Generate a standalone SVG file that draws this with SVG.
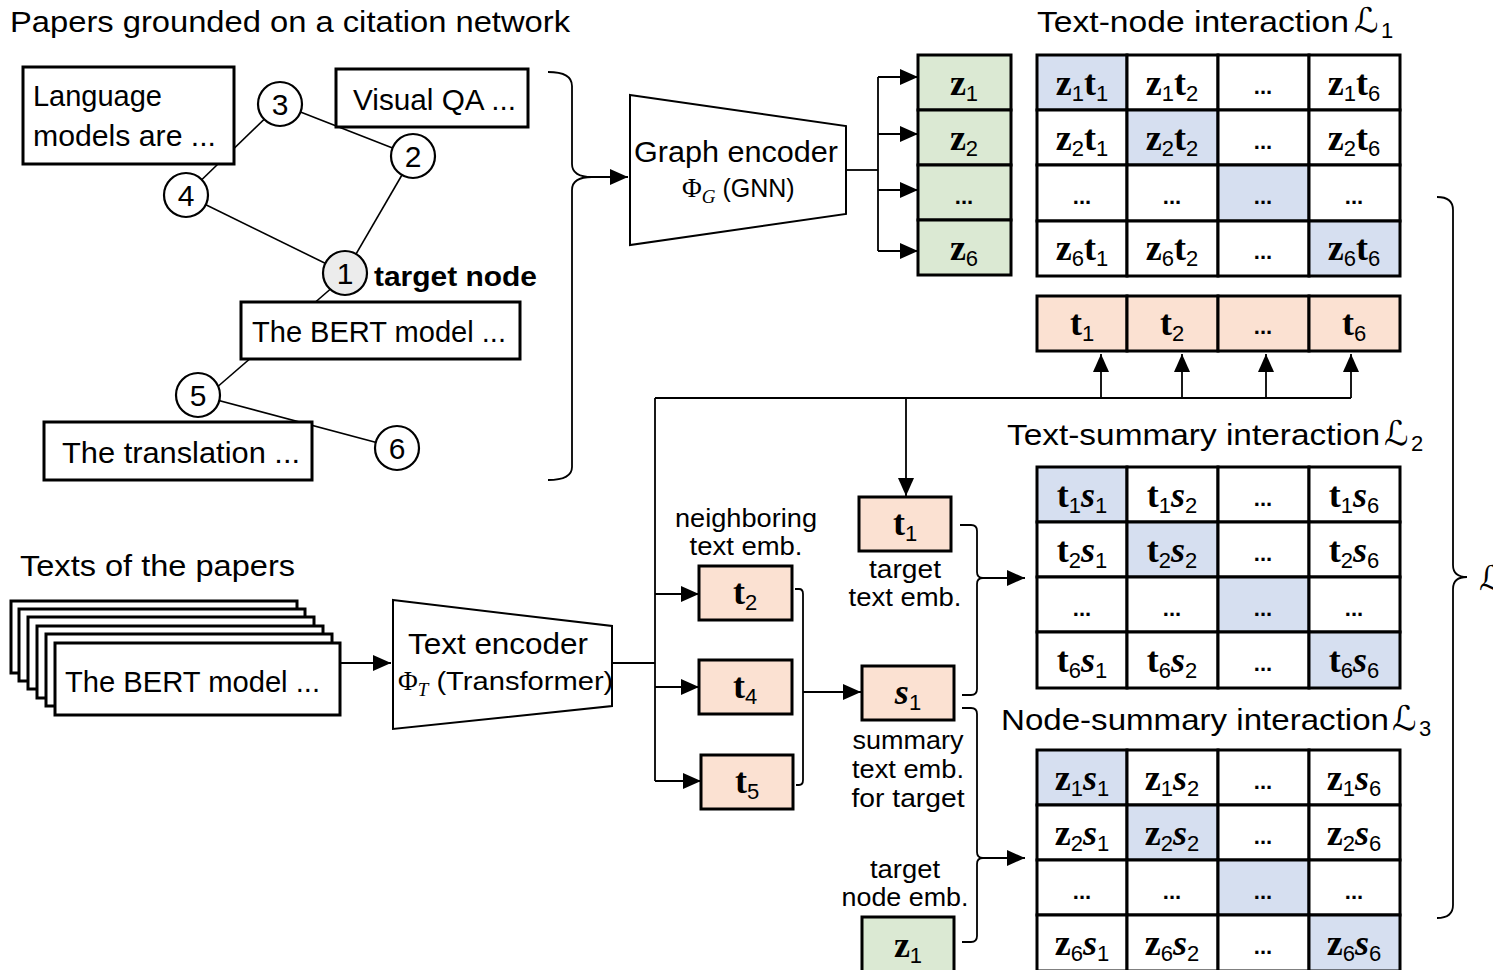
<svg xmlns="http://www.w3.org/2000/svg" width="1493" height="970" viewBox="0 0 1493 970">
<defs>
<marker id="ah" markerWidth="18" markerHeight="16" refX="18" refY="8" orient="auto" markerUnits="userSpaceOnUse"><path d="M0,0 L18,8 L0,16 z" fill="#000"/></marker>
<style>
.t{font-family:"Liberation Sans",Arial,sans-serif;font-size:29px;fill:#000}
.lab{font-family:"Liberation Sans",Arial,sans-serif;font-size:26px;fill:#000;text-anchor:middle}
.num{font-family:"Liberation Sans",Arial,sans-serif;font-size:30px;text-anchor:middle}
.box{fill:#fff;stroke:#000;stroke-width:3}
.circ{fill:#fff;stroke:#000;stroke-width:2.2}
.edge{stroke:#000;stroke-width:1.6;fill:none}
.conn{stroke:#000;stroke-width:1.8;fill:none}
.cw{fill:#fff;stroke:#000;stroke-width:3}
.cb{fill:#d6dff0;stroke:#000;stroke-width:3}
.cg{fill:#dbe9d3;stroke:#000;stroke-width:3}
.cp{fill:#fbe1d2;stroke:#000;stroke-width:3}
.c{text-anchor:middle}
.b{font-family:"Liberation Serif","Times New Roman",serif;font-weight:bold;font-size:36px}
.bi{font-family:"Liberation Serif","Times New Roman",serif;font-weight:bold;font-style:italic;font-size:36px}
.sb{font-family:"Liberation Sans",Arial,sans-serif;font-size:22px;font-weight:normal;font-style:normal}
.dots{font-family:"Liberation Sans",Arial,sans-serif;font-size:22px;font-weight:bold;text-anchor:middle}
.cal{font-family:"DejaVu Sans","DejaVu Serif",serif;font-size:34px}
</style>
</defs>

<!-- Titles -->
<text class="t" x="10" y="32" textLength="560" lengthAdjust="spacingAndGlyphs">Papers grounded on a citation network</text>
<text class="t" x="20" y="576" textLength="275" lengthAdjust="spacingAndGlyphs">Texts of the papers</text>
<g id="title-l1"><text class="t" x="1037" y="32" textLength="312" lengthAdjust="spacingAndGlyphs">Text-node interaction</text><text class="cal" x="1354" y="32">ℒ</text><text class="sb" x="1381" y="38">1</text></g>
<g id="title-l2"><text class="t" x="1007" y="445" textLength="373" lengthAdjust="spacingAndGlyphs">Text-summary interaction</text><text class="cal" x="1384" y="445">ℒ</text><text class="sb" x="1411" y="451">2</text></g>
<g id="title-l3"><text class="t" x="1001" y="730" textLength="388" lengthAdjust="spacingAndGlyphs">Node-summary interaction</text><text class="cal" x="1392" y="730">ℒ</text><text class="sb" x="1419" y="736">3</text></g>
<text class="cal" x="1479" y="590">ℒ</text>

<!-- Graph edges -->
<g id="graph-edges">
<line class="edge" x1="280" y1="104" x2="186" y2="195"/>
<line class="edge" x1="280" y1="104" x2="413" y2="156"/>
<line class="edge" x1="413" y1="156" x2="345" y2="273"/>
<line class="edge" x1="186" y1="195" x2="345" y2="273"/>
<line class="edge" x1="349" y1="273" x2="208" y2="395"/>
<line class="edge" x1="198" y1="395" x2="397" y2="448"/>
</g>

<!-- Graph nodes -->
<g id="paper-language"><rect class="box" x="23" y="67" width="211" height="97"/><text class="t" x="33" y="106" textLength="129" lengthAdjust="spacingAndGlyphs">Language</text><text class="t" x="33" y="146" textLength="183" lengthAdjust="spacingAndGlyphs">models are ...</text></g>
<g id="paper-vqa"><rect class="box" x="336" y="69" width="192" height="58"/><text class="t" x="353" y="110" textLength="163" lengthAdjust="spacingAndGlyphs">Visual QA ...</text></g>
<g id="paper-bert"><rect class="box" x="241" y="302" width="279" height="57"/><text class="t" x="252" y="342" textLength="254" lengthAdjust="spacingAndGlyphs">The BERT model ...</text></g>
<g id="paper-translation"><rect class="box" x="44" y="422" width="268" height="58"/><text class="t" x="62" y="463" textLength="238" lengthAdjust="spacingAndGlyphs">The translation ...</text></g>
<g id="n3"><circle class="circ" cx="280" cy="104" r="22"/><text class="num" x="280" y="115">3</text></g>
<g id="n2"><circle class="circ" cx="413" cy="156" r="22"/><text class="num" x="413" y="167">2</text></g>
<g id="n4"><circle class="circ" cx="186" cy="195" r="22"/><text class="num" x="186" y="206">4</text></g>
<g id="n1"><circle class="circ" cx="345" cy="273" r="22" style="fill:#ececec"/><text class="num" x="345" y="284">1</text></g>
<text x="374" y="286" style="font-family:'Liberation Sans',Arial,sans-serif;font-weight:bold;font-size:28px" textLength="163" lengthAdjust="spacingAndGlyphs">target node</text>
<g id="n5"><circle class="circ" cx="198" cy="395" r="22"/><text class="num" x="198" y="406">5</text></g>
<g id="n6"><circle class="circ" cx="397" cy="448" r="22"/><text class="num" x="397" y="459">6</text></g>

<!-- Connectors -->
<g id="connectors">
<path class="conn" d="M548,72 Q572,72 572,86 L572,164 Q572,177 592,177 Q572,177 572,190 L572,467 Q572,480 548,480"/>
<line class="conn" x1="590" y1="177" x2="628" y2="177" marker-end="url(#ah)"/>
<polyline class="conn" points="846,170 878,170"/>
<line class="conn" x1="878" y1="77" x2="878" y2="251"/>
<line class="conn" x1="878" y1="77" x2="918" y2="77" marker-end="url(#ah)"/>
<line class="conn" x1="878" y1="134" x2="918" y2="134" marker-end="url(#ah)"/>
<line class="conn" x1="878" y1="190" x2="918" y2="190" marker-end="url(#ah)"/>
<line class="conn" x1="878" y1="251" x2="918" y2="251" marker-end="url(#ah)"/>
<line class="conn" x1="340" y1="663" x2="391" y2="663" marker-end="url(#ah)"/>
<line class="conn" x1="612" y1="663" x2="655" y2="663"/>
<line class="conn" x1="655" y1="398" x2="655" y2="781"/>
<line class="conn" x1="655" y1="398" x2="1351" y2="398"/>
<line class="conn" x1="1101" y1="398" x2="1101" y2="354" marker-end="url(#ah)"/>
<line class="conn" x1="1182" y1="398" x2="1182" y2="354" marker-end="url(#ah)"/>
<line class="conn" x1="1266" y1="398" x2="1266" y2="354" marker-end="url(#ah)"/>
<line class="conn" x1="1351" y1="398" x2="1351" y2="354" marker-end="url(#ah)"/>
<line class="conn" x1="906" y1="398" x2="906" y2="496" marker-end="url(#ah)"/>
<line class="conn" x1="655" y1="594" x2="699" y2="594" marker-end="url(#ah)"/>
<line class="conn" x1="655" y1="687" x2="699" y2="687" marker-end="url(#ah)"/>
<line class="conn" x1="655" y1="781" x2="701" y2="781" marker-end="url(#ah)"/>
<path class="conn" d="M795,589 L799,589 Q803,589 803,594 L803,780 Q803,785 799,785 L796,785"/>
<line class="conn" x1="803" y1="692" x2="861" y2="692" marker-end="url(#ah)"/>
<path class="conn" d="M960,525 L971,525 Q977,525 977,531 L977,572 Q977,578 983,578 Q977,578 977,584 L977,689 Q977,695 971,695 L962,695"/>
<line class="conn" x1="981" y1="578" x2="1025" y2="578" marker-end="url(#ah)"/>
<path class="conn" d="M962,708 L971,708 Q977,708 977,714 L977,852 Q977,858 983,858 Q977,858 977,864 L977,936 Q977,942 971,942 L962,942"/>
<line class="conn" x1="981" y1="858" x2="1025" y2="858" marker-end="url(#ah)"/>
<path class="conn" d="M1437,197 Q1453,197 1453,210 L1453,565 Q1453,577 1467,577 Q1453,577 1453,589 L1453,905 Q1453,918 1437,918"/>
</g>

<!-- Graph encoder -->
<g id="graph-encoder"><polygon class="box" style="stroke-width:2" points="630,95 846,126 846,214 630,245"/><text class="t" x="634" y="162" textLength="204" lengthAdjust="spacingAndGlyphs">Graph encoder</text><text x="682" y="197" style="font-family:'Liberation Serif',serif;font-size:27px">Φ<tspan dy="6" style="font-style:italic;font-size:19px">G</tspan><tspan dy="-6" style="font-family:'Liberation Sans',Arial,sans-serif;font-size:25px"> (GNN)</tspan></text></g>

<!-- Text stack -->
<g id="paper-stack">
<rect class="box" x="11" y="601" width="286" height="72"/>
<rect class="box" x="19" y="609" width="286" height="72"/>
<rect class="box" x="28" y="617" width="286" height="72"/>
<rect class="box" x="37" y="626" width="286" height="72"/>
<rect class="box" x="46" y="634" width="286" height="72"/>
<rect class="box" x="55" y="643" width="285" height="72"/>
<text class="t" x="65" y="692" textLength="255" lengthAdjust="spacingAndGlyphs">The BERT model ...</text>
</g>

<!-- Text encoder -->
<g id="text-encoder"><polygon class="box" style="stroke-width:2" points="393,600 612,626 612,706 393,729"/><text class="t" x="408" y="654" textLength="180" lengthAdjust="spacingAndGlyphs">Text encoder</text><text x="398" y="690" style="font-family:'Liberation Serif',serif;font-size:27px">Φ<tspan dy="6" style="font-style:italic;font-size:19px">T</tspan><tspan dy="-6" style="font-family:'Liberation Sans',Arial,sans-serif;font-size:25px" textLength="185" lengthAdjust="spacingAndGlyphs"> (Transformer)</tspan></text></g>

<!-- z column -->
<g id="z-column">
<rect class="cg" x="918" y="55" width="93" height="55"/><rect class="cg" x="918" y="110" width="93" height="55"/><rect class="cg" x="918" y="165" width="93" height="55"/><rect class="cg" x="918" y="220" width="93" height="55"/>
<text class="c" x="964" y="95"><tspan class="b">z</tspan><tspan class="sb" dy="6">1</tspan></text>
<text class="c" x="964" y="150"><tspan class="b">z</tspan><tspan class="sb" dy="6">2</tspan></text>
<text class="dots" x="964" y="204">...</text>
<text class="c" x="964" y="260"><tspan class="b">z</tspan><tspan class="sb" dy="6">6</tspan></text>
</g>

<!-- Matrix L1 -->
<g id="matrix-l1">
<rect class="cb" x="1037" y="55" width="90" height="55"/><rect class="cw" x="1127" y="55" width="91" height="55"/><rect class="cw" x="1218" y="55" width="91" height="55"/><rect class="cw" x="1309" y="55" width="91" height="55"/>
<rect class="cw" x="1037" y="110" width="90" height="55"/><rect class="cb" x="1127" y="110" width="91" height="55"/><rect class="cw" x="1218" y="110" width="91" height="55"/><rect class="cw" x="1309" y="110" width="91" height="55"/>
<rect class="cw" x="1037" y="165" width="90" height="56"/><rect class="cw" x="1127" y="165" width="91" height="56"/><rect class="cb" x="1218" y="165" width="91" height="56"/><rect class="cw" x="1309" y="165" width="91" height="56"/>
<rect class="cw" x="1037" y="221" width="90" height="55"/><rect class="cw" x="1127" y="221" width="91" height="55"/><rect class="cw" x="1218" y="221" width="91" height="55"/><rect class="cb" x="1309" y="221" width="91" height="55"/>
<text class="c" x="1082" y="95"><tspan class="b">z</tspan><tspan class="sb" dy="6">1</tspan><tspan class="b" dy="-6">t</tspan><tspan class="sb" dy="6">1</tspan></text>
<text class="c" x="1172" y="95"><tspan class="b">z</tspan><tspan class="sb" dy="6">1</tspan><tspan class="b" dy="-6">t</tspan><tspan class="sb" dy="6">2</tspan></text>
<text class="dots" x="1263" y="94">...</text>
<text class="c" x="1354" y="95"><tspan class="b">z</tspan><tspan class="sb" dy="6">1</tspan><tspan class="b" dy="-6">t</tspan><tspan class="sb" dy="6">6</tspan></text>
<text class="c" x="1082" y="150"><tspan class="b">z</tspan><tspan class="sb" dy="6">2</tspan><tspan class="b" dy="-6">t</tspan><tspan class="sb" dy="6">1</tspan></text>
<text class="c" x="1172" y="150"><tspan class="b">z</tspan><tspan class="sb" dy="6">2</tspan><tspan class="b" dy="-6">t</tspan><tspan class="sb" dy="6">2</tspan></text>
<text class="dots" x="1263" y="149">...</text>
<text class="c" x="1354" y="150"><tspan class="b">z</tspan><tspan class="sb" dy="6">2</tspan><tspan class="b" dy="-6">t</tspan><tspan class="sb" dy="6">6</tspan></text>
<text class="dots" x="1082" y="204">...</text><text class="dots" x="1172" y="204">...</text><text class="dots" x="1263" y="204">...</text><text class="dots" x="1354" y="204">...</text>
<text class="c" x="1082" y="260"><tspan class="b">z</tspan><tspan class="sb" dy="6">6</tspan><tspan class="b" dy="-6">t</tspan><tspan class="sb" dy="6">1</tspan></text>
<text class="c" x="1172" y="260"><tspan class="b">z</tspan><tspan class="sb" dy="6">6</tspan><tspan class="b" dy="-6">t</tspan><tspan class="sb" dy="6">2</tspan></text>
<text class="dots" x="1263" y="259">...</text>
<text class="c" x="1354" y="260"><tspan class="b">z</tspan><tspan class="sb" dy="6">6</tspan><tspan class="b" dy="-6">t</tspan><tspan class="sb" dy="6">6</tspan></text>
</g>

<!-- t row -->
<g id="t-row">
<rect class="cp" x="1037" y="296" width="90" height="55"/><rect class="cp" x="1127" y="296" width="91" height="55"/><rect class="cp" x="1218" y="296" width="91" height="55"/><rect class="cp" x="1309" y="296" width="91" height="55"/>
<text class="c" x="1082" y="335"><tspan class="b">t</tspan><tspan class="sb" dy="6">1</tspan></text>
<text class="c" x="1172" y="335"><tspan class="b">t</tspan><tspan class="sb" dy="6">2</tspan></text>
<text class="dots" x="1263" y="334">...</text>
<text class="c" x="1354" y="335"><tspan class="b">t</tspan><tspan class="sb" dy="6">6</tspan></text>
</g>

<!-- Matrix L2 -->
<g id="matrix-l2">
<rect class="cb" x="1037" y="467" width="90" height="55"/><rect class="cw" x="1127" y="467" width="91" height="55"/><rect class="cw" x="1218" y="467" width="91" height="55"/><rect class="cw" x="1309" y="467" width="91" height="55"/>
<rect class="cw" x="1037" y="522" width="90" height="55"/><rect class="cb" x="1127" y="522" width="91" height="55"/><rect class="cw" x="1218" y="522" width="91" height="55"/><rect class="cw" x="1309" y="522" width="91" height="55"/>
<rect class="cw" x="1037" y="577" width="90" height="55"/><rect class="cw" x="1127" y="577" width="91" height="55"/><rect class="cb" x="1218" y="577" width="91" height="55"/><rect class="cw" x="1309" y="577" width="91" height="55"/>
<rect class="cw" x="1037" y="632" width="90" height="56"/><rect class="cw" x="1127" y="632" width="91" height="56"/><rect class="cw" x="1218" y="632" width="91" height="56"/><rect class="cb" x="1309" y="632" width="91" height="56"/>
<text class="c" x="1082" y="507"><tspan class="b">t</tspan><tspan class="sb" dy="6">1</tspan><tspan class="bi" dy="-6">s</tspan><tspan class="sb" dy="6">1</tspan></text>
<text class="c" x="1172" y="507"><tspan class="b">t</tspan><tspan class="sb" dy="6">1</tspan><tspan class="bi" dy="-6">s</tspan><tspan class="sb" dy="6">2</tspan></text>
<text class="dots" x="1263" y="506">...</text>
<text class="c" x="1354" y="507"><tspan class="b">t</tspan><tspan class="sb" dy="6">1</tspan><tspan class="bi" dy="-6">s</tspan><tspan class="sb" dy="6">6</tspan></text>
<text class="c" x="1082" y="562"><tspan class="b">t</tspan><tspan class="sb" dy="6">2</tspan><tspan class="bi" dy="-6">s</tspan><tspan class="sb" dy="6">1</tspan></text>
<text class="c" x="1172" y="562"><tspan class="b">t</tspan><tspan class="sb" dy="6">2</tspan><tspan class="bi" dy="-6">s</tspan><tspan class="sb" dy="6">2</tspan></text>
<text class="dots" x="1263" y="561">...</text>
<text class="c" x="1354" y="562"><tspan class="b">t</tspan><tspan class="sb" dy="6">2</tspan><tspan class="bi" dy="-6">s</tspan><tspan class="sb" dy="6">6</tspan></text>
<text class="dots" x="1082" y="616">...</text><text class="dots" x="1172" y="616">...</text><text class="dots" x="1263" y="616">...</text><text class="dots" x="1354" y="616">...</text>
<text class="c" x="1082" y="672"><tspan class="b">t</tspan><tspan class="sb" dy="6">6</tspan><tspan class="bi" dy="-6">s</tspan><tspan class="sb" dy="6">1</tspan></text>
<text class="c" x="1172" y="672"><tspan class="b">t</tspan><tspan class="sb" dy="6">6</tspan><tspan class="bi" dy="-6">s</tspan><tspan class="sb" dy="6">2</tspan></text>
<text class="dots" x="1263" y="671">...</text>
<text class="c" x="1354" y="672"><tspan class="b">t</tspan><tspan class="sb" dy="6">6</tspan><tspan class="bi" dy="-6">s</tspan><tspan class="sb" dy="6">6</tspan></text>
</g>

<!-- Matrix L3 -->
<g id="matrix-l3">
<rect class="cb" x="1037" y="750" width="90" height="55"/><rect class="cw" x="1127" y="750" width="91" height="55"/><rect class="cw" x="1218" y="750" width="91" height="55"/><rect class="cw" x="1309" y="750" width="91" height="55"/>
<rect class="cw" x="1037" y="805" width="90" height="55"/><rect class="cb" x="1127" y="805" width="91" height="55"/><rect class="cw" x="1218" y="805" width="91" height="55"/><rect class="cw" x="1309" y="805" width="91" height="55"/>
<rect class="cw" x="1037" y="860" width="90" height="55"/><rect class="cw" x="1127" y="860" width="91" height="55"/><rect class="cb" x="1218" y="860" width="91" height="55"/><rect class="cw" x="1309" y="860" width="91" height="55"/>
<rect class="cw" x="1037" y="915" width="90" height="56"/><rect class="cw" x="1127" y="915" width="91" height="56"/><rect class="cw" x="1218" y="915" width="91" height="56"/><rect class="cb" x="1309" y="915" width="91" height="56"/>
<text class="c" x="1082" y="790"><tspan class="b">z</tspan><tspan class="sb" dy="6">1</tspan><tspan class="bi" dy="-6">s</tspan><tspan class="sb" dy="6">1</tspan></text>
<text class="c" x="1172" y="790"><tspan class="b">z</tspan><tspan class="sb" dy="6">1</tspan><tspan class="bi" dy="-6">s</tspan><tspan class="sb" dy="6">2</tspan></text>
<text class="dots" x="1263" y="789">...</text>
<text class="c" x="1354" y="790"><tspan class="b">z</tspan><tspan class="sb" dy="6">1</tspan><tspan class="bi" dy="-6">s</tspan><tspan class="sb" dy="6">6</tspan></text>
<text class="c" x="1082" y="845"><tspan class="b">z</tspan><tspan class="sb" dy="6">2</tspan><tspan class="bi" dy="-6">s</tspan><tspan class="sb" dy="6">1</tspan></text>
<text class="c" x="1172" y="845"><tspan class="b">z</tspan><tspan class="sb" dy="6">2</tspan><tspan class="bi" dy="-6">s</tspan><tspan class="sb" dy="6">2</tspan></text>
<text class="dots" x="1263" y="844">...</text>
<text class="c" x="1354" y="845"><tspan class="b">z</tspan><tspan class="sb" dy="6">2</tspan><tspan class="bi" dy="-6">s</tspan><tspan class="sb" dy="6">6</tspan></text>
<text class="dots" x="1082" y="899">...</text><text class="dots" x="1172" y="899">...</text><text class="dots" x="1263" y="899">...</text><text class="dots" x="1354" y="899">...</text>
<text class="c" x="1082" y="955"><tspan class="b">z</tspan><tspan class="sb" dy="6">6</tspan><tspan class="bi" dy="-6">s</tspan><tspan class="sb" dy="6">1</tspan></text>
<text class="c" x="1172" y="955"><tspan class="b">z</tspan><tspan class="sb" dy="6">6</tspan><tspan class="bi" dy="-6">s</tspan><tspan class="sb" dy="6">2</tspan></text>
<text class="dots" x="1263" y="954">...</text>
<text class="c" x="1354" y="955"><tspan class="b">z</tspan><tspan class="sb" dy="6">6</tspan><tspan class="bi" dy="-6">s</tspan><tspan class="sb" dy="6">6</tspan></text>
</g>

<!-- Embedding boxes -->
<g id="emb-t1"><rect class="cp" x="859" y="497" width="92" height="54"/><text class="c" x="905" y="535"><tspan class="b">t</tspan><tspan class="sb" dy="6">1</tspan></text><text class="lab" x="905" y="578" textLength="72" lengthAdjust="spacingAndGlyphs">target</text><text class="lab" x="905" y="606" textLength="113" lengthAdjust="spacingAndGlyphs">text emb.</text></g>
<g id="emb-t2"><rect class="cp" x="699" y="566" width="93" height="54"/><text class="c" x="745" y="604"><tspan class="b">t</tspan><tspan class="sb" dy="6">2</tspan></text><text class="lab" x="746" y="527" textLength="142" lengthAdjust="spacingAndGlyphs">neighboring</text><text class="lab" x="746" y="555" textLength="113" lengthAdjust="spacingAndGlyphs">text emb.</text></g>
<g id="emb-t4"><rect class="cp" x="699" y="660" width="93" height="54"/><text class="c" x="745" y="698"><tspan class="b">t</tspan><tspan class="sb" dy="6">4</tspan></text></g>
<g id="emb-t5"><rect class="cp" x="701" y="755" width="92" height="54"/><text class="c" x="747" y="793"><tspan class="b">t</tspan><tspan class="sb" dy="6">5</tspan></text></g>
<g id="emb-s1"><rect class="cp" x="862" y="666" width="92" height="54"/><text class="c" x="908" y="704"><tspan class="bi">s</tspan><tspan class="sb" dy="6">1</tspan></text><text class="lab" x="908" y="749" textLength="111" lengthAdjust="spacingAndGlyphs">summary</text><text class="lab" x="908" y="778" textLength="112" lengthAdjust="spacingAndGlyphs">text emb.</text><text class="lab" x="908" y="807" textLength="113" lengthAdjust="spacingAndGlyphs">for target</text></g>
<g id="emb-z1"><rect class="cg" x="862" y="917" width="92" height="60"/><text class="c" x="908" y="957"><tspan class="b">z</tspan><tspan class="sb" dy="6">1</tspan></text><text class="lab" x="905" y="878" textLength="70" lengthAdjust="spacingAndGlyphs">target</text><text class="lab" x="905" y="906" textLength="127" lengthAdjust="spacingAndGlyphs">node emb.</text></g>
</svg>
